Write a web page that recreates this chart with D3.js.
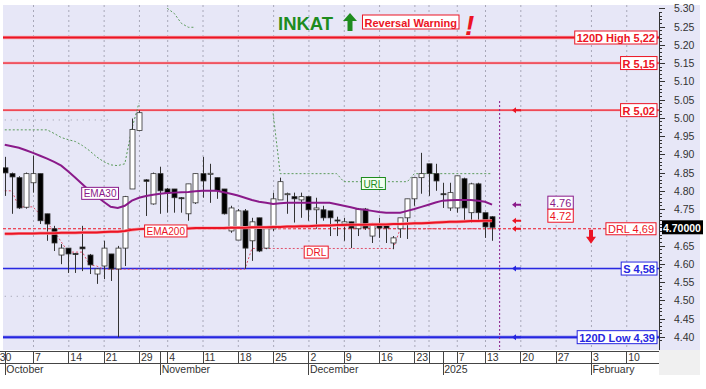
<!DOCTYPE html>
<html><head><meta charset="utf-8">
<script src="https://cdn.jsdelivr.net/npm/d3@7"></script>
<style>body{margin:0;background:#fff}svg{display:block}text{font-family:"Liberation Sans",Arial,sans-serif}</style>
</head><body><svg id="c" width="706" height="389"></svg>
<script>
// ---------- DATA ----------
const opens =[4.863,4.847,4.836,4.755,4.822,4.847,4.737,4.696,4.624,4.643,4.628,4.646,4.624,4.572,4.594,4.627,4.586,4.643,4.805,4.965,
4.830,4.764,4.847,4.805,4.805,4.781,4.737,4.767,4.847,4.845,4.836,4.805,4.690,4.665,4.745,4.663,4.726,4.643,4.696,4.775,
4.790,4.784,4.775,4.784,4.748,4.748,4.745,4.720,4.709,4.715,4.696,4.750,4.676,4.704,4.704,4.657,4.696,4.726,4.778,4.836,
4.874,4.847,4.792,4.753,4.753,4.833,4.740,4.819,4.740,4.729];
const highs =[4.893,4.850,4.840,4.850,4.896,4.847,4.737,4.704,4.654,4.643,4.630,4.704,4.627,4.588,4.663,4.627,4.649,4.786,4.998,5.020,
4.832,4.850,4.866,4.808,4.805,4.783,4.819,4.847,4.893,4.874,4.836,4.805,4.759,4.750,4.750,4.726,4.726,4.698,4.795,4.836,
4.795,4.795,4.795,4.786,4.781,4.759,4.745,4.729,4.726,4.715,4.753,4.753,4.712,4.726,4.709,4.676,4.726,4.778,4.836,4.904,
4.874,4.874,4.822,4.822,4.841,4.836,4.822,4.822,4.740,4.731];
const lows  =[4.786,4.737,4.750,4.751,4.795,4.709,4.663,4.635,4.599,4.575,4.575,4.580,4.572,4.545,4.558,4.553,4.399,4.594,4.805,4.965,
4.731,4.762,4.737,4.740,4.740,4.740,4.718,4.764,4.781,4.767,4.778,4.735,4.685,4.665,4.586,4.608,4.632,4.640,4.690,4.775,
4.737,4.713,4.726,4.718,4.696,4.718,4.676,4.676,4.663,4.643,4.676,4.693,4.657,4.671,4.657,4.640,4.671,4.668,4.759,4.792,
4.786,4.800,4.753,4.745,4.740,4.712,4.712,4.718,4.671,4.663];
const closes=[4.849,4.838,4.753,4.847,4.847,4.718,4.709,4.657,4.643,4.627,4.626,4.641,4.597,4.586,4.643,4.586,4.643,4.784,4.968,5.014,
4.826,4.847,4.800,4.794,4.781,4.779,4.819,4.847,4.827,4.848,4.800,4.737,4.753,4.745,4.643,4.715,4.635,4.696,4.778,4.825,
4.792,4.778,4.784,4.748,4.753,4.726,4.726,4.718,4.715,4.698,4.750,4.698,4.709,4.698,4.698,4.671,4.726,4.778,4.836,4.847,
4.847,4.827,4.790,4.795,4.841,4.753,4.819,4.740,4.701,4.700];
const ema30 =[4.926,4.922,4.918,4.911,4.904,4.896,4.888,4.879,4.869,4.853,4.836,4.818,4.800,4.785,4.770,4.756,4.753,4.759,4.773,4.781,
4.786,4.789,4.792,4.794,4.795,4.796,4.797,4.799,4.800,4.800,4.800,4.796,4.792,4.787,4.781,4.775,4.770,4.767,4.764,4.766,
4.767,4.767,4.767,4.767,4.767,4.767,4.767,4.763,4.759,4.755,4.750,4.748,4.745,4.742,4.740,4.740,4.740,4.745,4.750,4.756,
4.762,4.768,4.773,4.774,4.775,4.775,4.775,4.773,4.770,4.762];
const ema200=[4.682,4.682,4.683,4.683,4.683,4.684,4.684,4.684,4.685,4.685,4.685,4.686,4.686,4.686,4.687,4.688,4.688,4.690,4.693,4.695,
4.696,4.696,4.697,4.697,4.697,4.697,4.697,4.698,4.698,4.698,4.698,4.698,4.699,4.699,4.699,4.700,4.700,4.700,4.701,4.701,
4.702,4.702,4.703,4.703,4.704,4.705,4.705,4.706,4.706,4.707,4.707,4.707,4.708,4.708,4.708,4.709,4.709,4.710,4.711,4.711,
4.712,4.713,4.714,4.715,4.715,4.716,4.717,4.717,4.718,4.718];
const urlLevel=[4.967,4.967,4.967,4.967,4.967,4.967,4.967,4.957,4.946,4.940,4.935,4.924,4.910,4.893,4.880,4.871,4.869,4.874,4.970,5.040,
null,null,null,5.300,5.286,5.259,5.248,5.248,null,null,null,null,null,null,null,null,null,null,5.012,4.847,
4.847,4.847,4.847,4.847,4.847,4.847,4.847,4.847,4.825,4.825,4.825,4.825,4.825,4.825,4.825,4.825,4.825,4.825,4.847,4.847,
4.847,4.847,4.847,4.847,4.847,4.847,4.847,4.847,4.847,4.847];
const drlTrail=[4.800,4.800,4.756,4.756,4.756,4.735,4.712,4.690,4.660,4.632,4.632,4.632,4.597,4.594,4.585,4.585,4.585,4.585,4.585,4.585,
4.585,4.585,4.585,4.585,4.585,4.585,4.585,4.585,4.585,4.585,4.585,4.585,4.585,4.585,4.585,4.642,4.642,4.642,4.642,4.642,
4.642,4.642,4.642,4.642,4.642,4.642,4.642,4.642,4.642,4.642,4.642,4.642,4.642,4.642,4.642,4.642,4.696,4.696,4.696,4.696,
4.696,4.696,4.696,4.696,4.696,4.696,4.696,4.696,4.696,4.696];
const upperBand=[4.994,4.994,4.994,4.994,4.994,4.994,4.994,4.994,4.994,4.994,4.994,4.994,4.994,4.994,4.994,4.994];
const lowerBand=[4.511,4.511,4.511,4.511,4.511,4.511,4.511,4.511,4.511,4.511,4.511,4.511,4.511,4.511,4.511,4.511];
const levelLabels=["120D High 5,22","R 5,15","R 5,02","S 4,58","120D Low 4,39"];
const levelValues=[5.22,5.15,5.021,4.587,4.399];
const levelKinds =["res","res","res","sup","sup"];
const drlValue=4.696, drlLabel="DRL 4,69";
const lastPrice=4.70, lastPriceLabel="4.70000";
const yTickLabels=["5.30","5.25","5.20","5.15","5.10","5.05","5.00","4.95","4.90","4.85","4.80","4.75","4.70","4.65","4.60","4.55","4.50","4.45","4.40"];
const holidays=["2024-10-28","2024-12-24","2024-12-25","2024-12-26","2025-01-01","2025-01-06"];
const weekTickDates=["2024-09-30","2024-10-07","2024-10-14","2024-10-21","2024-10-29","2024-11-04","2024-11-11","2024-11-18","2024-11-25","2024-12-02","2024-12-09","2024-12-16","2024-12-23","2024-12-30","2025-01-07","2025-01-13","2025-01-20","2025-01-27","2025-02-03","2025-02-10"];
const weekTickLabels=["30","7","14","21","29","4","11","18","25","2","9","16","23","","7","13","20","27","3","10"];
const monthTickDates=["2024-10-01","2024-11-01","2024-12-02","2025-01-02","2025-02-03"];
const monthLabels=["October","November","December","2025","February"];
const titleText="INKAT", warningText="Reversal Warning";

// ---------- SETUP ----------
const tradingDays=[];
for(let d=new Date(Date.UTC(2024,8,30)); d<=new Date(Date.UTC(2025,1,20)); d.setUTCDate(d.getUTCDate()+1)){
  const wd=d.getUTCDay(); if(wd===0||wd===6) continue;
  const s=d.toISOString().slice(0,10); if(holidays.includes(s)) continue;
  tradingDays.push(s);
}
const idxOf=s=>tradingDays.indexOf(s)-1;

const svg=d3.select("#c");
const PL=3, PR=659, PT=5, PB=350;
const x=d3.scaleLinear().domain([-1,93]).range([-2.3125,661.5625]);
const y=d3.scaleLinear().domain([4.40,5.30]).range([336.8,8.3]);
const RED="#ec1424", BLUE="#2626e0", PURPLE="#8a1a8a", GREEN="#1e8c1e";

svg.append("rect").attr("width",706).attr("height",389).attr("fill","#fff");
svg.append("rect").attr("x",PL).attr("y",PT).attr("width",700-PL).attr("height",PB-PT).attr("fill","#e7e7f7");
svg.append("rect").attr("x",PR).attr("y",PB).attr("width",41).attr("height",25).attr("fill","#f0f0f0");

const defs=svg.append("defs");
defs.append("clipPath").attr("id","plot").append("rect").attr("x",PL).attr("y",PT).attr("width",PR-PL).attr("height",PB-PT);
const g=svg.append("g").attr("clip-path","url(#plot)");

// vertical grid
g.selectAll("line.vg").data(weekTickDates).join("line").attr("class","vg")
  .attr("x1",d=>x(idxOf(d))+0.5).attr("x2",d=>x(idxOf(d))+0.5).attr("y1",PT).attr("y2",PB)
  .attr("stroke","#a8a8b8").attr("stroke-dasharray","2,3");

// faint bands
const lineGen=d3.line().defined(d=>d!=null).x((d,i)=>x(i)).y(d=>y(d));
g.append("path").attr("d",lineGen(upperBand)).attr("fill","none").attr("stroke","#9a9aa8").attr("stroke-dasharray","1,5");
g.append("path").attr("d",lineGen(lowerBand)).attr("fill","none").attr("stroke","#9a9aa8").attr("stroke-dasharray","1,5");

// level lines (with soft halo)
levelValues.forEach((v,k)=>{
  const c=levelKinds[k]==="res"?RED:BLUE;
  const halo=levelKinds[k]==="res"?"#f5a3ab":"#a3a3f0";
  const w=(k===0||k===4)?2:1;
  g.append("line").attr("x1",PL).attr("x2",PR).attr("y1",y(v)).attr("y2",y(v)).attr("stroke",halo).attr("stroke-width",w+1.4);
  g.append("line").attr("x1",PL).attr("x2",PR).attr("y1",y(v)).attr("y2",y(v)).attr("stroke",c).attr("stroke-width",w);
});
// DRL dashed line
g.append("line").attr("x1",PL).attr("x2",612).attr("y1",y(drlValue)).attr("y2",y(drlValue))
  .attr("stroke",RED).attr("stroke-dasharray","3,2").attr("stroke-width",1);

// URL & DRL trail
g.append("path").attr("d",lineGen(urlLevel)).attr("fill","none").attr("stroke","#5a9a5a").attr("stroke-dasharray","2,2").attr("stroke-width",1);
g.append("path").attr("d",lineGen(drlTrail)).attr("fill","none").attr("stroke","#e0506a").attr("stroke-dasharray","2,2").attr("stroke-width",1);

// today line
g.append("line").attr("x1",x(70)+0.5).attr("x2",x(70)+0.5).attr("y1",101).attr("y2",PB)
  .attr("stroke",PURPLE).attr("stroke-dasharray","2,2");

// candles
const idx=d3.range(closes.length);
g.selectAll("line.wick").data(idx).join("line").attr("class","wick")
  .attr("x1",i=>Math.round(x(i))+0.5).attr("x2",i=>Math.round(x(i))+0.5)
  .attr("y1",i=>y(highs[i])).attr("y2",i=>y(lows[i])).attr("stroke","#333");
g.selectAll("rect.body").data(idx).join("rect").attr("class","body")
  .attr("x",i=>Math.round(x(i))-2).attr("width",5)
  .attr("y",i=>y(Math.max(opens[i],closes[i])))
  .attr("height",i=>Math.max(1,Math.abs(y(opens[i])-y(closes[i]))))
  .attr("fill",i=>closes[i]>=opens[i]?"#fff":"#000")
  .attr("stroke","#333").attr("stroke-width",0.8);

// EMAs
g.append("path").attr("d",lineGen(ema200)).attr("fill","none").attr("stroke","#f5a3ab").attr("stroke-width",3.2);
g.append("path").attr("d",lineGen(ema200)).attr("fill","none").attr("stroke",RED).attr("stroke-width",2);
g.append("path").attr("d",lineGen(ema30)).attr("fill","none").attr("stroke",PURPLE).attr("stroke-width",2);

// boxed label helper
function box(txt,cx,cy,color,opts={}){
  const gg=svg.append("g");
  const t=gg.append("text").text(txt).attr("font-size",opts.size||10).attr("font-weight",opts.bold?"bold":"normal")
    .attr("fill",color).attr("dominant-baseline","central");
  const w=t.node().getComputedTextLength(), pad=opts.pad||2, h=opts.h||12;
  let left = opts.right!=null ? opts.right-w-2*pad : cx-w/2-pad;
  t.attr("x",left+pad).attr("y",cy+0.5);
  gg.insert("rect","text").attr("x",left).attr("y",cy-h/2).attr("width",w+2*pad).attr("height",h)
    .attr("fill",opts.fill||"#fff").attr("stroke",color).attr("stroke-width",1);
}
// series labels
box("EMA30",x(13.5),y(4.793),PURPLE);
box("EMA200",x(22.8),y(4.690),RED);
box("URL",x(52.2),y(4.820),GREEN,{fill:"#f2fff0"});
box("DRL",x(44.1),y(4.632),RED);
box(ema30[ema30.length-1].toFixed(2),x(78.7),y(ema30[ema30.length-1])-2,PURPLE,{size:11,h:13});
box(ema200[ema200.length-1].toFixed(2),x(78.7),y(ema200[ema200.length-1])-5,RED,{size:11,h:13});
box(drlLabel,0,y(drlValue),RED,{right:656,size:11});
levelValues.forEach((v,k)=>{
  box(levelLabels[k],0,y(v),levelKinds[k]==="res"?RED:BLUE,{right:657,bold:true,size:11,h:13});
});

// arrows
function leftArrow(xt,yc,c){
  svg.append("path").attr("d",`M${xt},${yc} L${xt+4},${yc-3} L${xt+4},${yc-1} L${xt+9},${yc-1} L${xt+9},${yc+1} L${xt+4},${yc+1} L${xt+4},${yc+3} Z`).attr("fill",c);
}
leftArrow(512,y(levelValues[2]),RED);
leftArrow(512,y(ema30[ema30.length-1]),PURPLE);
leftArrow(512,y(ema200[ema200.length-1]),RED);
leftArrow(512,y(drlValue),RED);
leftArrow(512,y(levelValues[3]),BLUE);
leftArrow(512,y(levelValues[4]),BLUE);
const dy=y(drlValue);
svg.append("path").attr("d",`M589,${dy+1} L593,${dy+1} L593,${dy+8} L596,${dy+8} L591,${dy+15} L586,${dy+8} L589,${dy+8} Z`).attr("fill",RED);

// title
svg.append("text").attr("x",278).attr("y",30).text(titleText).attr("font-size",18.5).attr("font-weight","bold").attr("fill",GREEN);
svg.append("path").attr("d","M350,13 L357,21 L352.5,21 L352.5,31 L347.5,31 L347.5,21 L343,21 Z").attr("fill",GREEN);
box(warningText,0,22,RED,{right:459,bold:true,size:11,h:14,pad:2});
svg.append("text").attr("x",465).attr("y",35).text("!").attr("font-size",28).attr("font-weight","bold").attr("font-style","italic").attr("fill",RED);

// right axis
svg.append("line").attr("x1",PR+0.5).attr("x2",PR+0.5).attr("y1",PT+8).attr("y2",PB).attr("stroke","#333");
const minor=d3.range(439,531).map(v=>v/100);
svg.selectAll("line.mt").data(minor).join("line").attr("class","mt")
  .attr("x1",PR).attr("x2",d=>Math.round(d*100)%5===0?PR+6:PR+3)
  .attr("y1",d=>Math.round(y(d))+0.5).attr("y2",d=>Math.round(y(d))+0.5).attr("stroke","#333");
// tick labels (the one under the current-price tag is hidden by it)
svg.selectAll("text.yl").data(yTickLabels.filter(d=>Math.abs(+d-lastPrice)>0.02)).join("text").attr("class","yl")
  .attr("x",674).attr("y",d=>y(+d)).attr("dominant-baseline","central")
  .attr("font-size",10.5).attr("fill","#333").text(d=>d);
// current price
const py=y(lastPrice);
svg.append("rect").attr("x",662).attr("y",py-7).attr("width",41).attr("height",14).attr("fill","#000");
svg.append("text").attr("x",663).attr("y",py+0.5).attr("dominant-baseline","central").attr("font-size",10.5)
  .attr("font-weight","bold").attr("fill","#fff").text(lastPriceLabel);

// date axis
const ax=svg.append("g");
ax.append("rect").attr("x",0).attr("y",351).attr("width",PR).attr("height",24).attr("fill","#fff");
ax.append("line").attr("x1",0).attr("x2",PR).attr("y1",351.5).attr("y2",351.5).attr("stroke","#444");
ax.append("line").attr("x1",0).attr("x2",PR).attr("y1",363.5).attr("y2",363.5).attr("stroke","#444");
const row1=[...weekTickDates,...monthTickDates];
ax.selectAll("line.t1").data(row1).join("line").attr("class","t1")
  .attr("x1",d=>Math.round(x(idxOf(d)))+0.5).attr("x2",d=>Math.round(x(idxOf(d)))+0.5)
  .attr("y1",352).attr("y2",363).attr("stroke","#444");
ax.selectAll("text.t1").data(weekTickDates).join("text").attr("class","t1")
  .attr("x",d=>x(idxOf(d))+2).attr("y",361).attr("font-size",10.5).attr("fill","#333")
  .text((d,i)=>weekTickLabels[i]);
ax.selectAll("line.t2").data(monthTickDates).join("line").attr("class","t2")
  .attr("x1",d=>Math.round(x(idxOf(d)))+0.5).attr("x2",d=>Math.round(x(idxOf(d)))+0.5)
  .attr("y1",364).attr("y2",375).attr("stroke","#444");
ax.selectAll("text.t2").data(monthTickDates).join("text").attr("class","t2")
  .attr("x",d=>x(idxOf(d))+1.5).attr("y",373).attr("font-size",10.5).attr("fill","#333")
  .text((d,i)=>monthLabels[i]);
</script></body></html>
